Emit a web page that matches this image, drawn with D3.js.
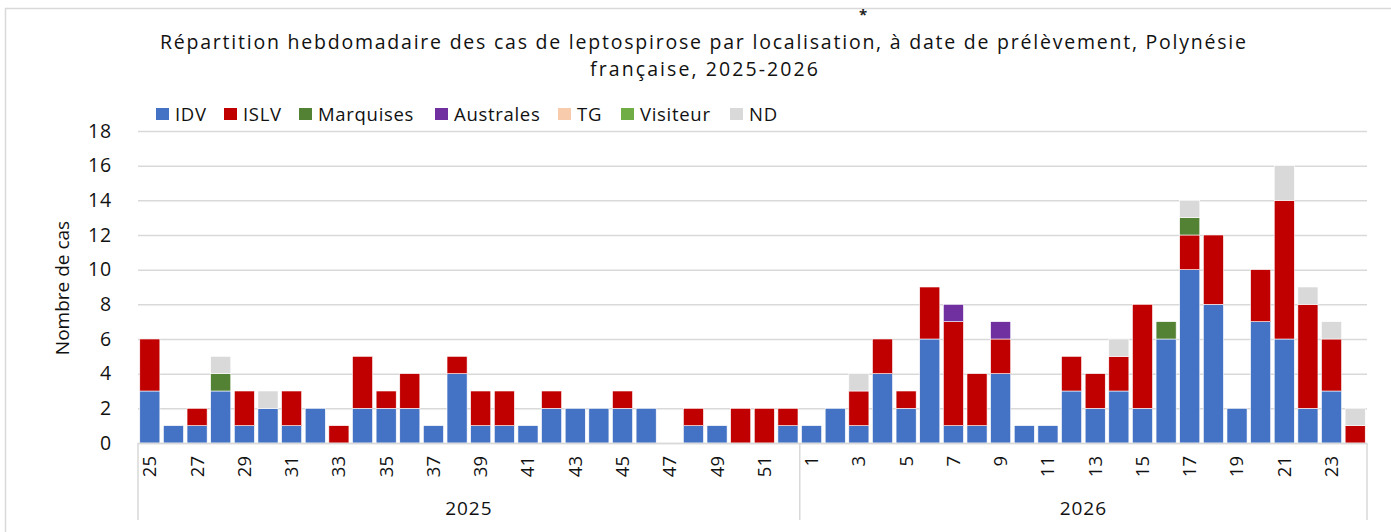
<!DOCTYPE html>
<html>
<head>
<meta charset="utf-8">
<script src="https://cdn.jsdelivr.net/npm/d3@7"></script>
<style>
  body { margin: 0; background: #fff; }
  svg { display: block; font-family: "Open Sans", sans-serif; }
</style>
</head>
<body>
<svg id="chart" width="1391" height="532"></svg>
<script>
// Weekly leptospirosis cases by location, 2025 (weeks 25-52) and 2026 (weeks 1-24)
const years = ["2025", "2026"];
const weeks2025 = d3.range(25, 53);
const weeks2026 = d3.range(1, 25);

const idv = [3,1,1,3,1,2,1,2,0,2,2,2,1,4,1,1,1,2,2,2,2,2,0,1,1,0,0,1,
             1,2,1,4,2,6,1,1,4,1,1,3,2,3,2,6,10,8,2,7,6,2,3,0];
const islv = [3,0,1,0,2,0,2,0,1,3,1,2,0,1,2,2,0,1,0,0,1,0,0,1,0,2,2,1,
              0,0,2,2,1,3,6,3,2,0,0,2,2,2,6,0,2,4,0,3,8,6,3,1];
const marquises = [0,0,0,1,0,0,0,0,0,0,0,0,0,0,0,0,0,0,0,0,0,0,0,0,0,0,0,0,
                   0,0,0,0,0,0,0,0,0,0,0,0,0,0,0,1,1,0,0,0,0,0,0,0];
const australes = [0,0,0,0,0,0,0,0,0,0,0,0,0,0,0,0,0,0,0,0,0,0,0,0,0,0,0,0,
                   0,0,0,0,0,0,1,0,1,0,0,0,0,0,0,0,0,0,0,0,0,0,0,0];
const tg = new Array(52).fill(0);
const visiteur = new Array(52).fill(0);
const nd = [0,0,0,1,0,1,0,0,0,0,0,0,0,0,0,0,0,0,0,0,0,0,0,0,0,0,0,0,
            0,0,1,0,0,0,0,0,0,0,0,0,0,1,0,0,1,0,0,0,2,1,1,1];

const seriesNames = ["IDV", "ISLV", "Marquises", "Australes", "TG", "Visiteur", "ND"];
const seriesColors = ["#4472c4", "#c00000", "#548235", "#7030a0", "#f8cbad", "#70ad47", "#d9d9d9"];
const seriesValues = [idv, islv, marquises, australes, tg, visiteur, nd];
const yTicks = [0, 2, 4, 6, 8, 10, 12, 14, 16, 18];

const cats = [
  ...weeks2025.map(w => ({ year: "2025", week: w })),
  ...weeks2026.map(w => ({ year: "2026", week: w })),
];
const rows = cats.map((c, i) => {
  const r = { key: c.year + "-" + c.week, year: c.year, week: c.week };
  seriesNames.forEach((s, j) => r[s] = seriesValues[j][i]);
  return r;
});

const svg = d3.select("#chart");
const m = { l: 138, r: 1367, t: 131, b: 443 };

// chart frame
svg.append("rect")
  .attr("x", 5.5).attr("y", 8.5).attr("width", 1500).attr("height", 600)
  .attr("fill", "none").attr("stroke", "#d9d9d9").attr("stroke-width", 1.5);

svg.append("text")
  .attr("x", 863).attr("y", 20).attr("text-anchor", "middle")
  .style("font-size", "15px").style("font-weight", 700).attr("fill", "#222")
  .text("*");

// title
svg.append("text")
  .attr("x", 703).attr("y", 49).attr("text-anchor", "middle")
  .attr("textLength", 1086).attr("lengthAdjust", "spacing")
  .style("font-size", "19.5px").attr("fill", "#111")
  .text("Répartition hebdomadaire des cas de leptospirose par localisation, à date de prélèvement, Polynésie");
svg.append("text")
  .attr("x", 704).attr("y", 76).attr("text-anchor", "middle")
  .attr("textLength", 228).attr("lengthAdjust", "spacing")
  .style("font-size", "19.5px").attr("fill", "#111")
  .text("française, 2025-2026");

// legend
const legendX = [156, 224, 299, 435, 558, 621, 730];
const lg = svg.append("g").selectAll("g").data(seriesNames).join("g")
  .attr("transform", (d, i) => `translate(${legendX[i]},108)`);
lg.append("rect").attr("width", 13).attr("height", 12)
  .attr("fill", (d, i) => seriesColors[i]);
lg.append("text").attr("x", 19).attr("y", 12.5)
  .style("font-size", "18.5px").style("letter-spacing", "0.7px").attr("fill", "#111")
  .text(d => d);

const x = d3.scaleBand().domain(rows.map(d => d.key))
  .range([m.l, m.r]).paddingInner(0.15).paddingOuter(0.075);
const y = d3.scaleLinear().domain([0, 18]).range([m.b, m.t]);

// gridlines + y labels
svg.append("g").attr("transform", `translate(${m.l},0)`)
  .call(d3.axisLeft(y).tickValues(yTicks).tickSize(-(m.r - m.l)).tickPadding(26))
  .call(g => g.select(".domain").remove())
  .call(g => g.selectAll("line").attr("stroke", "#d9d9d9").attr("stroke-width", 1.5))
  .call(g => g.selectAll("text").attr("fill", "#111").style("font-size", "19.5px")
    .style("letter-spacing", "0.8px")
    .style("font-family", "'Open Sans', sans-serif"));

svg.append("text")
  .attr("transform", "translate(69,288) rotate(-90)")
  .attr("text-anchor", "middle").style("font-size", "19px").attr("fill", "#111")
  .text("Nombre de cas");

// stacked bars
const stack = d3.stack().keys(seriesNames)(rows);
svg.append("g").selectAll("g").data(stack).join("g")
  .attr("fill", (d, i) => seriesColors[i])
  .selectAll("rect").data(d => d.filter(p => p[1] > p[0])).join("rect")
  .attr("x", d => x(d.data.key))
  .attr("width", x.bandwidth())
  .attr("y", d => y(d[1]))
  .attr("height", d => y(d[0]) - y(d[1]))
  .attr("stroke", "#fff").attr("stroke-width", 0.6);

// x axis baseline
svg.append("line")
  .attr("x1", m.l).attr("x2", m.r).attr("y1", m.b + 0.5).attr("y2", m.b + 0.5)
  .attr("stroke", "#d9d9d9").attr("stroke-width", 1.5);

// week labels (every other week)
svg.append("g").selectAll("text")
  .data(rows.filter(d => d.week % 2 === 1)).join("text")
  .attr("transform", d => `translate(${x(d.key) + x.bandwidth() / 2},456) rotate(-90)`)
  .attr("text-anchor", "end").attr("dy", "0.35em")
  .style("font-size", "18.5px").attr("fill", "#111")
  .text(d => d.week);

// year groups
const groupEdges = [m.l, x(rows[weeks2025.length].key) - x.step() * x.paddingInner() / 2, m.r];
svg.append("g").selectAll("line").data(groupEdges).join("line")
  .attr("x1", d => d).attr("x2", d => d).attr("y1", m.b).attr("y2", 520)
  .attr("stroke", "#d9d9d9").attr("stroke-width", 1.5);
svg.append("g").selectAll("text").data(years).join("text")
  .attr("x", (d, i) => (groupEdges[i] + groupEdges[i + 1]) / 2)
  .attr("y", 515).attr("text-anchor", "middle")
  .style("font-size", "19px").style("letter-spacing", "1px").attr("fill", "#111")
  .text(d => d);
</script>
</body>
</html>
